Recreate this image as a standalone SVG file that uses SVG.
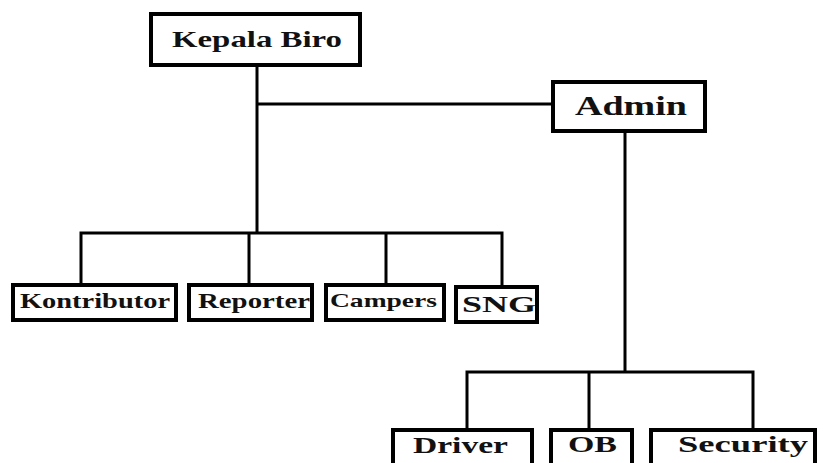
<svg xmlns="http://www.w3.org/2000/svg" width="829" height="463" viewBox="0 0 829 463">
<style>
.box{fill:#fff;stroke:#000;stroke-width:4}
.ln{fill:none;stroke:#000;stroke-width:3}
text{font-family:"Liberation Serif","Times New Roman",serif;font-weight:bold;fill:#111}
</style>
<rect width="829" height="463" fill="#fff"/>
<g id="connectors">
<path class="ln" d="M257 67V233M257 104H553M81 285V233H502V285M249 233V285M386 233V285"/>
<path class="ln" d="M625 132V372M467 428V372H753V428M589 372V428"/>
</g>
<g id="kepala-biro"><rect class="box" x="151" y="14" width="209" height="51"/><text x="172" y="47" font-size="23" textLength="170" lengthAdjust="spacingAndGlyphs">Kepala Biro</text></g>
<g id="admin"><rect class="box" x="553" y="82" width="152" height="49"/><text x="575" y="115" font-size="27" textLength="112" lengthAdjust="spacingAndGlyphs">Admin</text></g>
<g id="kontributor"><rect class="box" x="13" y="285" width="163" height="35"/><text x="20" y="308" font-size="20" textLength="150" lengthAdjust="spacingAndGlyphs">Kontributor</text></g>
<g id="reporter"><rect class="box" x="189" y="285" width="123" height="35"/><text x="198" y="308" font-size="20" textLength="112" lengthAdjust="spacingAndGlyphs">Reporter</text></g>
<g id="campers"><rect class="box" x="326" y="285" width="118" height="35"/><text x="330" y="307" font-size="19" textLength="107" lengthAdjust="spacingAndGlyphs">Campers</text></g>
<g id="sng"><rect class="box" x="456" y="287" width="81" height="35"/><text x="462" y="312" font-size="24" textLength="74" lengthAdjust="spacingAndGlyphs">SNG</text></g>
<g id="driver"><rect class="box" x="393" y="430" width="139" height="40"/><text x="413" y="453" font-size="24" textLength="95" lengthAdjust="spacingAndGlyphs">Driver</text></g>
<g id="ob"><rect class="box" x="551" y="430" width="81" height="40"/><text x="568" y="452" font-size="24" textLength="49" lengthAdjust="spacingAndGlyphs">OB</text></g>
<g id="security"><rect class="box" x="651" y="430" width="164" height="40"/><text x="678" y="452" font-size="24" textLength="130" lengthAdjust="spacingAndGlyphs">Security</text></g>
</svg>
